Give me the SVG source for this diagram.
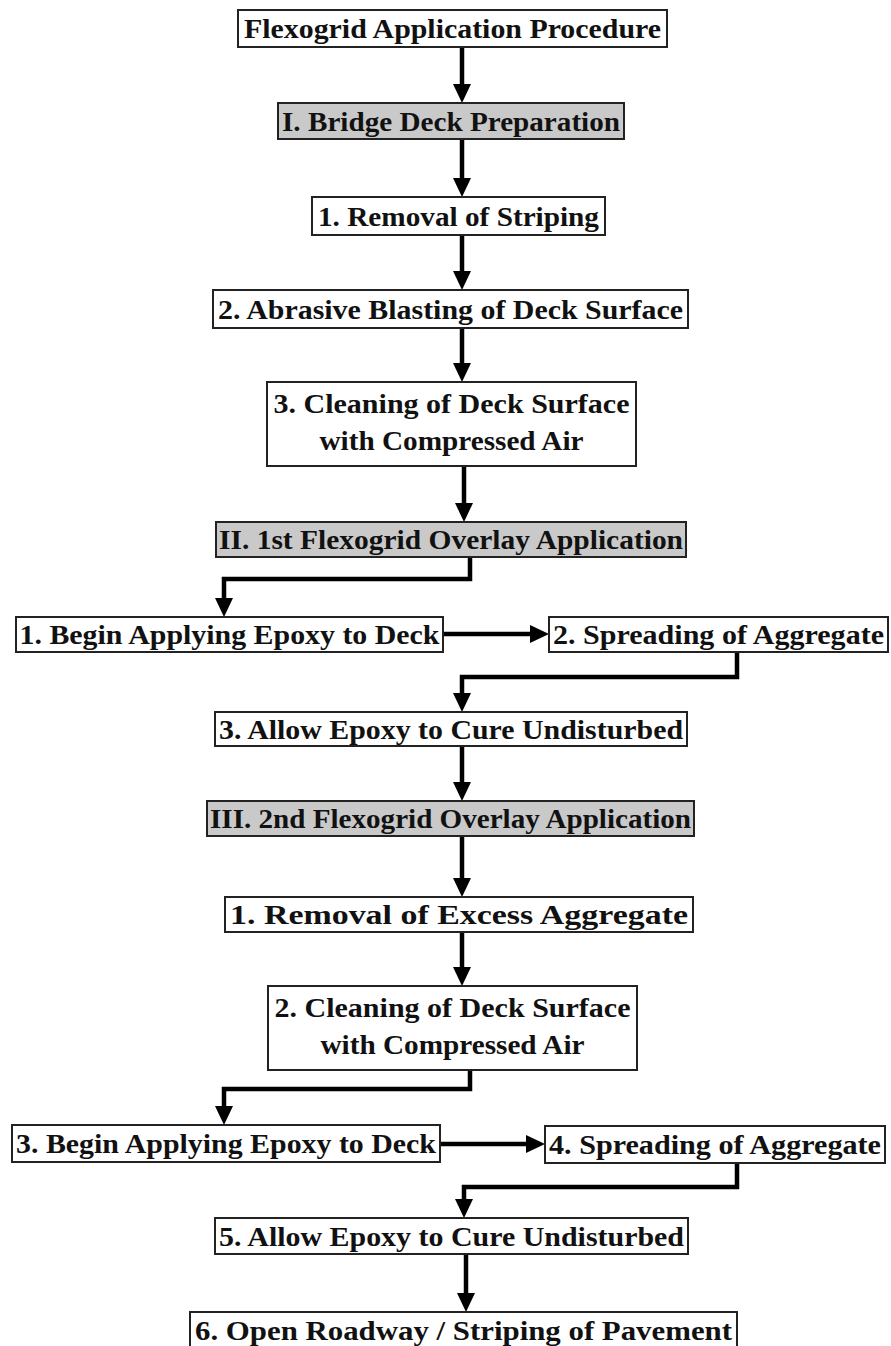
<svg xmlns="http://www.w3.org/2000/svg" width="891" height="1346" viewBox="0 0 891 1346">
<style>
.box{fill:#ffffff;stroke:#222;stroke-width:2}
.sec{fill:#c9c9c9;stroke:#222;stroke-width:2}
.t{font-family:"Liberation Serif","Times New Roman",serif;font-weight:bold;font-size:27px;fill:#111;text-anchor:middle}
.c{fill:none;stroke:#000;stroke-width:4.5;stroke-linejoin:miter}
</style>
<defs>
<marker id="ah" markerUnits="userSpaceOnUse" markerWidth="20" markerHeight="18" refX="8" refY="9" orient="auto">
<path d="M0,0 L19,9 L0,18 z" fill="#000"/>
</marker>
</defs>
<rect width="891" height="1346" fill="#ffffff"/>
<g id="connectors">
<path class="c" d="M462,47 V92" marker-end="url(#ah)"/>
<path class="c" d="M462,139 V186" marker-end="url(#ah)"/>
<path class="c" d="M462,235 V279" marker-end="url(#ah)"/>
<path class="c" d="M462,328 V371" marker-end="url(#ah)"/>
<path class="c" d="M464,466 V511" marker-end="url(#ah)"/>
<path class="c" d="M470,557 V579 H224 V606" marker-end="url(#ah)"/>
<path class="c" d="M443,634 H538" marker-end="url(#ah)"/>
<path class="c" d="M737,652 V677 H462 V701" marker-end="url(#ah)"/>
<path class="c" d="M462,746 V790" marker-end="url(#ah)"/>
<path class="c" d="M462,836 V886" marker-end="url(#ah)"/>
<path class="c" d="M462,932 V975" marker-end="url(#ah)"/>
<path class="c" d="M470,1070 V1089 H224 V1114" marker-end="url(#ah)"/>
<path class="c" d="M440,1144 H534" marker-end="url(#ah)"/>
<path class="c" d="M737,1163 V1187 H464 V1207" marker-end="url(#ah)"/>
<path class="c" d="M466,1254 V1301" marker-end="url(#ah)"/>
</g>
<g id="n-title"><rect class="box" x="238" y="10" width="429" height="37"/><text class="t" x="452.5" y="38" textLength="417" lengthAdjust="spacingAndGlyphs">Flexogrid Application Procedure</text></g>
<g id="n-I"><rect class="sec" x="278" y="103" width="346" height="36"/><text class="t" x="451" y="131" textLength="338" lengthAdjust="spacingAndGlyphs">I. Bridge Deck Preparation</text></g>
<g id="n-1"><rect class="box" x="312" y="197" width="293" height="38"/><text class="t" x="458.5" y="226" textLength="281" lengthAdjust="spacingAndGlyphs">1. Removal of Striping</text></g>
<g id="n-2"><rect class="box" x="213" y="290" width="475" height="38"/><text class="t" x="450.5" y="319" textLength="465" lengthAdjust="spacingAndGlyphs">2. Abrasive Blasting of Deck Surface</text></g>
<g id="n-3"><rect class="box" x="267" y="382" width="369" height="84"/><text class="t" x="451.5" y="413" textLength="356" lengthAdjust="spacingAndGlyphs">3. Cleaning of Deck Surface</text><text class="t" x="451.5" y="450" textLength="264" lengthAdjust="spacingAndGlyphs">with Compressed Air</text></g>
<g id="n-II"><rect class="sec" x="216" y="522" width="470" height="35"/><text class="t" x="451" y="549" textLength="464" lengthAdjust="spacingAndGlyphs">II. 1st Flexogrid Overlay Application</text></g>
<g id="n-II1"><rect class="box" x="16" y="617" width="427" height="35"/><text class="t" x="229.5" y="644" textLength="420" lengthAdjust="spacingAndGlyphs">1. Begin Applying Epoxy to Deck</text></g>
<g id="n-II2"><rect class="box" x="549" y="617" width="339" height="35"/><text class="t" x="718.5" y="644" textLength="331" lengthAdjust="spacingAndGlyphs">2. Spreading of Aggregate</text></g>
<g id="n-II3"><rect class="box" x="215" y="712" width="472" height="34"/><text class="t" x="451" y="739" textLength="464" lengthAdjust="spacingAndGlyphs">3. Allow Epoxy to Cure Undisturbed</text></g>
<g id="n-III"><rect class="sec" x="207" y="801" width="487" height="35"/><text class="t" x="450.5" y="828" textLength="481" lengthAdjust="spacingAndGlyphs">III. 2nd Flexogrid Overlay Application</text></g>
<g id="n-III1"><rect class="box" x="225" y="897" width="468" height="35"/><text class="t" x="459" y="924" textLength="458" lengthAdjust="spacingAndGlyphs">1. Removal of Excess Aggregate</text></g>
<g id="n-III2"><rect class="box" x="268" y="986" width="369" height="84"/><text class="t" x="452.5" y="1017" textLength="356" lengthAdjust="spacingAndGlyphs">2. Cleaning of Deck Surface</text><text class="t" x="452.5" y="1054" textLength="264" lengthAdjust="spacingAndGlyphs">with Compressed Air</text></g>
<g id="n-III3"><rect class="box" x="12" y="1125" width="428" height="37"/><text class="t" x="226" y="1153" textLength="420" lengthAdjust="spacingAndGlyphs">3. Begin Applying Epoxy to Deck</text></g>
<g id="n-III4"><rect class="box" x="545" y="1126" width="340" height="37"/><text class="t" x="715" y="1154" textLength="332" lengthAdjust="spacingAndGlyphs">4. Spreading of Aggregate</text></g>
<g id="n-III5"><rect class="box" x="215" y="1218" width="473" height="36"/><text class="t" x="451.5" y="1246" textLength="465" lengthAdjust="spacingAndGlyphs">5. Allow Epoxy to Cure Undisturbed</text></g>
<g id="n-III6"><rect class="box" x="190" y="1312" width="547" height="42"/><text class="t" x="463.5" y="1340" textLength="537" lengthAdjust="spacingAndGlyphs">6. Open Roadway / Striping of Pavement</text></g>
</svg>
